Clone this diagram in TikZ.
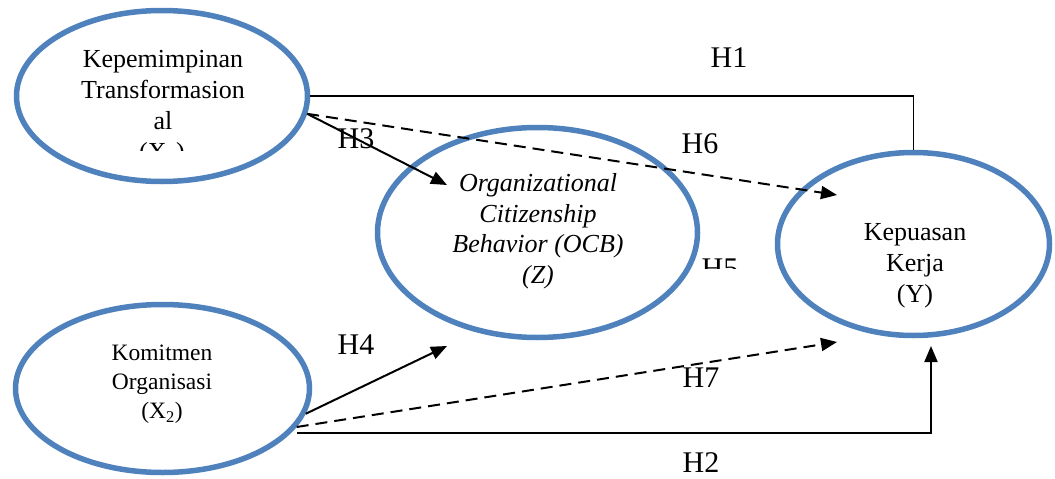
\documentclass[tikz,border=0pt]{standalone}
\usepackage{fontspec}
\setmainfont{Liberation Serif}
\usetikzlibrary{shapes.geometric,arrows.meta}
\definecolor{ovalblue}{HTML}{4F81BD}
\begin{document}
\begin{tikzpicture}[x=1pt,y=-1pt,
  oval/.style={ellipse,draw=ovalblue,line width=5.5pt,inner sep=0pt},
  vartext/.style={align=center,inner sep=0pt,font=\fontsize{26}{31}\selectfont},
  hyp/.style={inner sep=0pt,font=\fontsize{30}{36}\selectfont},
  link/.style={line width=2pt,-{Triangle[length=16pt,width=13pt]}},
  dashlink/.style={link,dash pattern=on 12pt off 7pt}]
  \useasboundingbox (0,0) rectangle (1055,479);

  % Define the variable ellipses
  \node[oval,minimum width=291pt,minimum height=171pt] (X1) at (162,96) {};
  \node[oval,minimum width=294pt,minimum height=168pt] (X2) at (162.5,388.5) {};
  \node[oval,minimum width=320pt,minimum height=210pt] (Z) at (537.5,232.5) {};
  \node[oval,minimum width=272pt,minimum height=183pt] (Y) at (913.5,244) {};

  % Texts inside the ellipses
  \node[vartext] (X1txt) at (163,90) {Kepemimpinan\\Transformasion\\al};
  \begin{scope}
    \clip (100,130) rectangle (230,150);
    \node[vartext,anchor=base] (X1sub) at (162,160) {(X\textsubscript{1})};
  \end{scope}
  \node[vartext,font=\itshape\fontsize{26}{30.5}\selectfont] (Ztxt) at (538,231)
    {Organizational\\Citizenship\\Behavior (OCB)\\(Z)};
  \node[vartext] (Ytxt) at (915,266) {Kepuasan\\Kerja\\(Y)};
  \node[vartext,font=\fontsize{23.5}{29}\selectfont] (X2txt) at (162,384)
    {Komitmen\\Organisasi\\(X\textsubscript{2})};

  % Arrow ends
  \coordinate (H3end) at (447,185);
  \coordinate (H6end) at (837,195);
  \coordinate (H4end) at (447,346);
  \coordinate (H7end) at (837,342);
  \coordinate (H2end) at (931,346);

  % Draw arrows
  \draw[line width=1.6pt] (X1.east) -| (Y.north);
  \draw[link] (X1.-7) -- (H3end);
  \draw[dashlink] (X1.-7) -- (H6end);
  \draw[link] (X2.-10) -- (H4end);
  \draw[dashlink] (X2.-16) -- (H7end);
  \draw[link] ([xshift=6pt]X2.-19) -| (H2end);

  % Hypothesis labels
  \node[hyp] (H1) at (729,58) {H1};
  \node[hyp] (H3) at (356,139) {H3};
  \node[hyp] (H6) at (700,144) {H6};
  \node[hyp] (H4) at (356,345) {H4};
  \node[hyp] (H7) at (701,378) {H7};
  \node[hyp] (H2) at (701,463) {H2};
  \begin{scope}
    \clip (690,250) rectangle (750,268);
    \node[hyp,anchor=base] (H5) at (720,278) {H5};
  \end{scope}
\end{tikzpicture}
\end{document}
